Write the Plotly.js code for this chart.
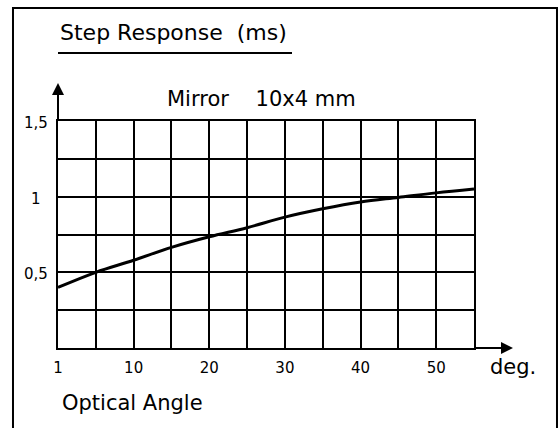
<!DOCTYPE html>
<html>
<head>
<meta charset="utf-8">
<script src="https://cdn.plot.ly/plotly-3.0.1.min.js"></script>
<style>html,body{margin:0;padding:0;background:#fff;}</style>
</head>
<body>
<div id="chart" style="width:560px;height:428px;"></div>
<script>
// Data (x positions: first point is the "1 deg." position)
const anglePos = [0, 5, 10, 15, 20, 25, 30, 35, 40, 45, 50, 55];
const stepMs   = [0.40, 0.50, 0.58, 0.665, 0.735, 0.795, 0.865, 0.92, 0.965, 0.995, 1.025, 1.05];
const xTickVals = [0, 10, 20, 30, 40, 50];
const xTickText = ['1', '10', '20', '30', '40', '50'];
const yLabelVals = [1.5, 1, 0.5];
const yLabelText = ['1,5', '1', '0,5'];

const FONT = 'DejaVu Sans, sans-serif';

const trace = {
  x: anglePos, y: stepMs, type: 'scatter', mode: 'lines',
  line: {color: '#000', width: 3, shape: 'spline'},
  hoverinfo: 'skip', showlegend: false
};

const annotations = [
  {text: 'Mirror\u00a0\u00a0\u00a0 10x4 mm', xref: 'paper', yref: 'paper', x: 0.49, y: 1.097,
   xanchor: 'center', yanchor: 'middle', showarrow: false, font: {family: FONT, size: 21, color: '#000'}},
  {text: 'deg.', xref: 'paper', yref: 'paper', x: 1.0938, y: -0.0837,
   xanchor: 'center', yanchor: 'middle', showarrow: false, font: {family: FONT, size: 21, color: '#000'}},
  {text: 'Optical Angle', xref: 'paper', yref: 'paper', x: 0.0048, y: -0.2423,
   xanchor: 'left', yanchor: 'middle', showarrow: false, font: {family: FONT, size: 21, color: '#000'}},
  // y axis arrow
  {text: '', xref: 'paper', yref: 'paper', x: 0, y: 1.1674, ax: 0, ay: 38,
   showarrow: true, arrowhead: 2, arrowwidth: 2, arrowsize: 1.2, arrowcolor: '#000'},
  // x axis arrow
  {text: '', xref: 'paper', yref: 'paper', x: 1.0938, y: 0, ax: -39, ay: 0,
   showarrow: true, arrowhead: 2, arrowwidth: 2, arrowsize: 1.2, arrowcolor: '#000'}
];
yLabelVals.forEach((v, i) => {
  annotations.push({text: yLabelText[i], xref: 'paper', yref: 'y', x: -0.0529, y: v, yshift: -2,
    xanchor: 'center', yanchor: 'middle', showarrow: false, font: {family: FONT, size: 15, color: '#000'}});
});

const layout = {
  width: 560, height: 428,
  margin: {l: 58, r: 86, t: 121, b: 80, pad: 0},
  paper_bgcolor: '#fff', plot_bgcolor: '#fff',
  font: {family: FONT, color: '#000'},
  title: {text: 'Step Response\u00a0 (ms)', font: {family: FONT, size: 22, color: '#000'},
          xref: 'container', yref: 'container', x: 60 / 560, xanchor: 'left', y: 1 - 32 / 428, yanchor: 'middle'},
  showlegend: false,
  xaxis: {
    range: [0, 55], tickvals: xTickVals, ticktext: xTickText,
    showgrid: true, gridcolor: '#000', gridwidth: 2,
    minor: {dtick: 5, tick0: 0, showgrid: true, gridcolor: '#000', gridwidth: 2},
    showline: true, linecolor: '#000', linewidth: 2, mirror: true, zeroline: false,
    ticks: '', ticklabelstandoff: 5, tickfont: {family: FONT, size: 15, color: '#000'},
    fixedrange: true
  },
  yaxis: {
    range: [0, 1.5], dtick: 0.25, tick0: 0, showticklabels: false,
    showgrid: true, gridcolor: '#000', gridwidth: 2,
    showline: true, linecolor: '#000', linewidth: 2, mirror: true, zeroline: false,
    ticks: '', fixedrange: true
  },
  annotations: annotations,
  shapes: [
    {type: 'line', xref: 'paper', yref: 'paper', x0: 0, x1: 0.5625, y0: 1.2996, y1: 1.2996,
     line: {color: '#000', width: 2}},
    {type: 'rect', xref: 'paper', yref: 'paper', x0: -0.1082, x1: 1.1995, y0: -0.6, y1: 1.4978,
     line: {color: '#000', width: 2}, fillcolor: 'rgba(0,0,0,0)'}
  ]
};

Plotly.newPlot('chart', [trace], layout, {staticPlot: true, displayModeBar: false});
</script>
</body>
</html>
